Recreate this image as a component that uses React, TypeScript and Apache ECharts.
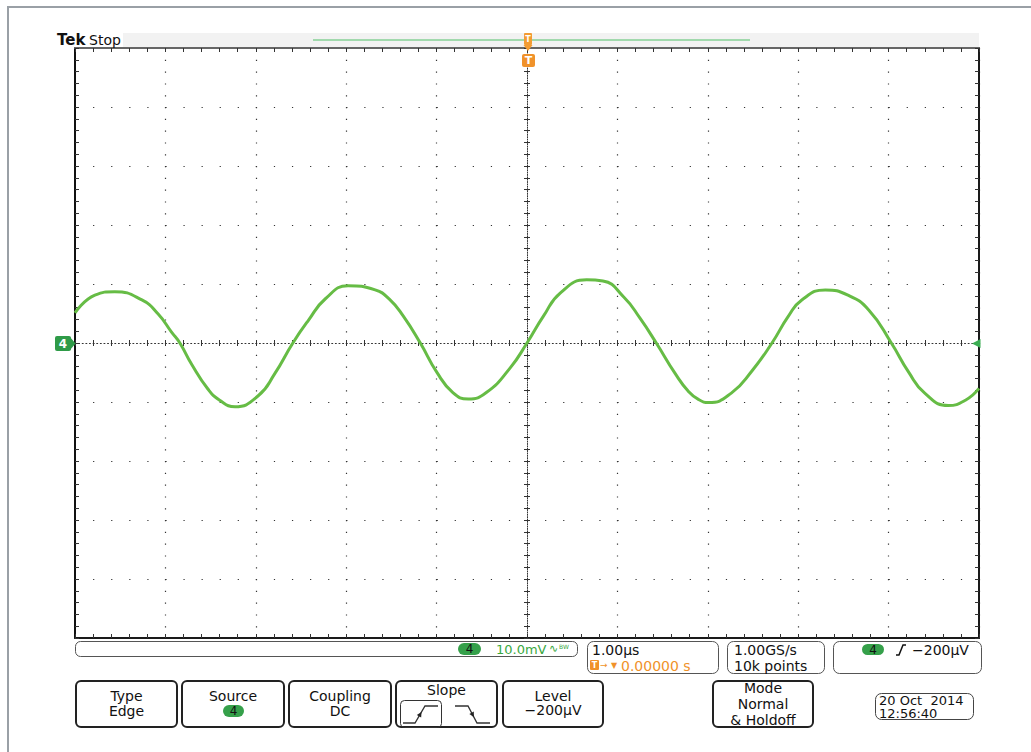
import React, { useEffect, useRef } from "react";
import * as echarts from "echarts";

// ---- Waveform (channel 4): time in µs, voltage in mV ----
const timeUs = [
  -5.0, -4.78, -4.56, -4.26, -4.08, -3.93, -3.84, -3.71, -3.53, -3.4, -3.23,
  -2.97, -2.79, -2.59, -2.42, -2.23, -1.98, -1.68, -1.52, -1.37, -1.18, -1.0,
  -0.82, -0.65, -0.45, -0.19, 0, 0.18, 0.37, 0.66, 0.84, 1.07, 1.25, 1.43, 1.64,
  1.78, 1.9, 2.01, 2.26, 2.49, 2.71, 2.89, 3.04, 3.3, 3.55, 3.78, 4.03, 4.22, 4.4,
  4.66, 4.85, 5.0,
];
const voltageMv = [
  5.1, 8.1, 8.7, 7.3, 4.9, 1.8, 0, -3.6, -7.8, -9.7, -10.8, -8.9, -5.2, 0, 3.8,
  7.5, 9.7, 9.0, 7.4, 4.6, 0, -4.9, -8.4, -9.5, -8.4, -4.3, 0, 4.5, 8.5, 10.7,
  10.5, 7.8, 4.2, 0, -5.2, -8.1, -9.6, -10.1, -8.5, -4.7, 0, 4.5, 7.3, 9.0, 8.1,
  5.6, 0, -4.9, -8.5, -10.6, -9.7, -7.7,
];

// ---- Graticule scales ----
const timeRangeUs = [-5, 5];
const timePerDivUs = 1;
const voltRangeMv = [-50, 50];
const voltPerDivMv = 10;

// ---- Readouts ----
const brandLabel = "Tek";
const runState = "Stop";
const channelLabel = "4";
const verticalScale = "10.0mV";
const horizontalScale = "1.00µs";
const triggerPosition = "0.00000 s";
const sampleRate = "1.00GS/s";
const recordLength = "10k points";
const triggerLevel = "−200µV";
const dateLine = "20 Oct  2014";
const timeLine = "12:56:40";
const menuType = ["Type", "Edge"];
const menuSource = "Source";
const menuCoupling = ["Coupling", "DC"];
const menuSlope = "Slope";
const menuLevel = ["Level", "−200µV"];
const menuMode = ["Mode", "Normal", "& Holdoff"];

const FONT = "'DejaVu Sans', sans-serif";
const GREEN = "#35a04a";
const TRACE = "#66bc45";
const ORANGE = "#f0922a";

function txt(x: number, y: number, text: string, size = 14, color = "#111", align = "left", weight = "normal") {
  return {
    type: "text",
    x,
    y,
    z: 100,
    style: {
      text,
      fill: color,
      font: `${weight} ${size}px ${FONT}`,
      align,
      verticalAlign: "middle",
      textAlign: align,
      textVerticalAlign: "middle",
    },
  };
}
function box(x: number, y: number, w: number, h: number, r: number, stroke: string, lw: number, fill = "none") {
  return { type: "rect", z: 90, shape: { x, y, width: w, height: h, r }, style: { fill, stroke, lineWidth: lw } };
}
function fillRect(x: number, y: number, w: number, h: number, r: number, fill: string) {
  return { type: "rect", z: 95, shape: { x, y, width: w, height: h, r }, style: { fill } };
}
function poly(points: number[][], fill: string) {
  return { type: "polygon", z: 96, shape: { points }, style: { fill } };
}
function pline(points: number[][], stroke: string, lw = 1.3) {
  return { type: "polyline", z: 96, shape: { points }, style: { stroke, lineWidth: lw, fill: "none" } };
}

function xAxisDef(position: string, extra: any) {
  return {
    type: "value",
    min: timeRangeUs[0],
    max: timeRangeUs[1],
    interval: timePerDivUs,
    position,
    axisLabel: { show: false },
    splitLine: { show: false },
    ...extra,
  };
}
function yAxisDef(position: string, extra: any) {
  return {
    type: "value",
    min: voltRangeMv[0],
    max: voltRangeMv[1],
    interval: voltPerDivMv,
    position,
    axisLabel: { show: false },
    splitLine: { show: false },
    ...extra,
  };
}

export default function App() {
  const ref = useRef<HTMLDivElement>(null);

  useEffect(() => {
    if (!ref.current) return;
    const chart = echarts.init(ref.current, null, { renderer: "svg" });

    const tickIn = (len: number) => ({ show: true, inside: true, length: len, lineStyle: { color: "#333", width: 1 } });
    const tickOut = (len: number) => ({ show: true, inside: false, length: len, lineStyle: { color: "#333", width: 1 } });
    const minor = (len: number) => ({ show: true, splitNumber: 5, length: len, lineStyle: { color: "#333", width: 1 } });

    const graphic: any[] = [
      // outer frame
      { type: "rect", z: 1, shape: { x: 8, y: 7, width: 1100, height: 900 }, style: { fill: "none", stroke: "#9aa0a6", lineWidth: 2 } },
      // top band
      { type: "rect", z: 1, shape: { x: 123, y: 33, width: 856, height: 14 }, style: { fill: "#f2f2f2" } },
      txt(57, 40, brandLabel, 15, "#111", "left", "bold"),
      txt(89, 40, runState, 14, "#111"),
      { type: "line", z: 95, shape: { x1: 313, y1: 40, x2: 750, y2: 40 }, style: { stroke: "#86d196", lineWidth: 1.5 } },
      // trigger position markers
      fillRect(524, 33, 8, 12, 1, "#f39c33"),
      txt(528, 39, "T", 8, "#fff", "center", "bold"),
      poly([[523.5, 45], [532.5, 45], [528, 51]], "#f39c33"),
      fillRect(522, 54, 13, 13, 2, ORANGE),
      txt(528.5, 60.5, "T", 11, "#fff", "center", "bold"),
      // channel 4 ground marker
      fillRect(55, 336, 16, 15, 2, "#2f9b48"),
      poly([[70, 337], [75.5, 343.5], [70, 350]], "#2f9b48"),
      txt(63, 343.5, channelLabel, 12, "#fff", "center", "bold"),
      // trigger level arrow
      poly([[972, 343.5], [980.5, 339], [980.5, 348]], "#3aad52"),

      // status bar: channel readout
      box(75.5, 641.5, 502, 15, 5, "#555", 1),
      fillRect(458, 643, 23, 12, 6, GREEN),
      txt(469.5, 649, channelLabel, 12, "#111", "center"),
      txt(496, 649, verticalScale, 13, "#3aa83f"),
      txt(549, 648, "∿", 11, "#3aa83f"),
      txt(559, 646, "BW", 6, "#3aa83f"),
      // horizontal readout
      box(587.5, 641.5, 131, 32, 6, "#555", 1),
      txt(592, 650, horizontalScale, 14, "#111"),
      fillRect(590, 660, 9, 10, 1, ORANGE),
      txt(594.5, 665, "T", 8, "#fff", "center", "bold"),
      txt(600, 665, "→", 9, ORANGE),
      txt(611, 665, "▼", 8, ORANGE),
      txt(621, 666, triggerPosition, 14, ORANGE),
      // acquisition readout
      box(727.5, 641.5, 97, 32, 6, "#555", 1),
      txt(734, 650, sampleRate, 14, "#111"),
      txt(734, 666, recordLength, 14, "#111"),
      // trigger readout
      box(833.5, 641.5, 148, 32, 6, "#555", 1),
      fillRect(862, 644, 22, 11, 5.5, GREEN),
      txt(873, 649.5, channelLabel, 12, "#111", "center"),
      pline([[896, 655], [899, 655], [903, 645], [906, 645]], "#111", 1.5),
      txt(912, 650, triggerLevel, 14, "#111"),

      // menu buttons
      box(76, 681, 101, 46, 5, "#222", 2, "#fff"),
      txt(126.5, 696, menuType[0], 14, "#111", "center"),
      txt(126.5, 711, menuType[1], 14, "#111", "center"),
      box(182, 681, 102, 46, 5, "#222", 2, "#fff"),
      txt(233, 696, menuSource, 14, "#111", "center"),
      fillRect(223, 705, 21, 12, 6, GREEN),
      txt(233.5, 711, channelLabel, 12, "#111", "center"),
      box(289, 681, 102, 46, 5, "#222", 2, "#fff"),
      txt(340, 696, menuCoupling[0], 14, "#111", "center"),
      txt(340, 711, menuCoupling[1], 14, "#111", "center"),
      box(396, 681, 101, 46, 5, "#222", 2, "#fff"),
      txt(446.5, 689.5, menuSlope, 14, "#111", "center"),
      box(400.5, 700.5, 41, 27, 4, "#333", 1),
      pline([[403, 723], [415, 723], [425, 706], [438, 706]], "#333", 1.3),
      poly([[421.5, 712], [421.2, 717.5], [416.8, 714.9]], "#222"),
      pline([[455, 706], [468, 706], [477, 723], [490, 723]], "#333", 1.3),
      poly([[473.9, 717.2], [473.8, 711.5], [469.4, 713.9]], "#222"),
      box(503, 681, 100, 46, 5, "#222", 2, "#fff"),
      txt(553, 696, menuLevel[0], 14, "#111", "center"),
      txt(553, 710, menuLevel[1], 14, "#111", "center"),
      box(713, 681, 100, 46, 5, "#222", 2, "#fff"),
      txt(763, 688, menuMode[0], 14, "#111", "center"),
      txt(763, 704, menuMode[1], 14, "#111", "center"),
      txt(763, 719.5, menuMode[2], 14, "#111", "center"),
      // date
      box(875.5, 693.5, 98, 26, 6, "#444", 1),
      txt(879, 700, dateLine, 13, "#111"),
      txt(879, 713.5, timeLine, 13, "#111"),
    ];

    const option: any = {
      animation: false,
      backgroundColor: "#ffffff",
      grid: { left: 75, top: 48, width: 904, height: 590, containLabel: false, outerBoundsMode: "none" },
      xAxis: [
        xAxisDef("bottom", {
          axisLine: { show: true, onZero: false, lineStyle: { color: "#1a1a1a", width: 2 } },
          axisTick: tickIn(4),
          minorTick: minor(4),
          splitLine: { show: true, lineStyle: { color: "#333", width: 1.2, type: [1.2, 10.6] } },
        }),
        xAxisDef("top", {
          axisLine: { show: true, onZero: false, lineStyle: { color: "#666", width: 2 } },
          axisTick: tickIn(4),
          minorTick: minor(4),
        }),
        xAxisDef("bottom", {
          offset: -295,
          axisLine: { show: true, onZero: false, lineStyle: { color: "#333", width: 1, type: [1, 2.616] } },
          axisTick: tickIn(3),
          minorTick: minor(3),
        }),
        xAxisDef("bottom", {
          offset: -295,
          axisLine: { show: false, onZero: false },
          axisTick: tickOut(3),
          minorTick: minor(3),
        }),
      ],
      yAxis: [
        yAxisDef("left", {
          axisLine: { show: true, onZero: false, lineStyle: { color: "#111", width: 2 } },
          axisTick: tickIn(4),
          minorTick: minor(4),
          splitLine: { show: true, lineStyle: { color: "#333", width: 1.2, type: [1.2, 16.88] } },
        }),
        yAxisDef("right", {
          axisLine: { show: true, onZero: false, lineStyle: { color: "#1a1a1a", width: 2 } },
          axisTick: tickIn(4),
          minorTick: minor(4),
        }),
        yAxisDef("left", {
          offset: -452,
          axisLine: { show: true, onZero: false, lineStyle: { color: "#333", width: 1, type: [1, 1.36] } },
          axisTick: tickIn(3),
          minorTick: minor(3),
        }),
        yAxisDef("left", {
          offset: -452,
          axisLine: { show: false, onZero: false },
          axisTick: tickOut(3),
          minorTick: minor(3),
        }),
      ],
      series: [
        {
          type: "line",
          xAxisIndex: 0,
          yAxisIndex: 0,
          data: timeUs.map((t, i) => [t, voltageMv[i]]),
          smooth: 0.5,
          showSymbol: false,
          symbol: "none",
          lineStyle: { color: TRACE, width: 3 },
          z: 20,
        },
      ],
      graphic,
    };
    chart.setOption(option);
    return () => chart.dispose();
  }, []);

  return (
    <div
      ref={ref}
      style={{ position: "fixed", left: 0, top: 0, width: 1031, height: 752, background: "#fff" }}
    />
  );
}
